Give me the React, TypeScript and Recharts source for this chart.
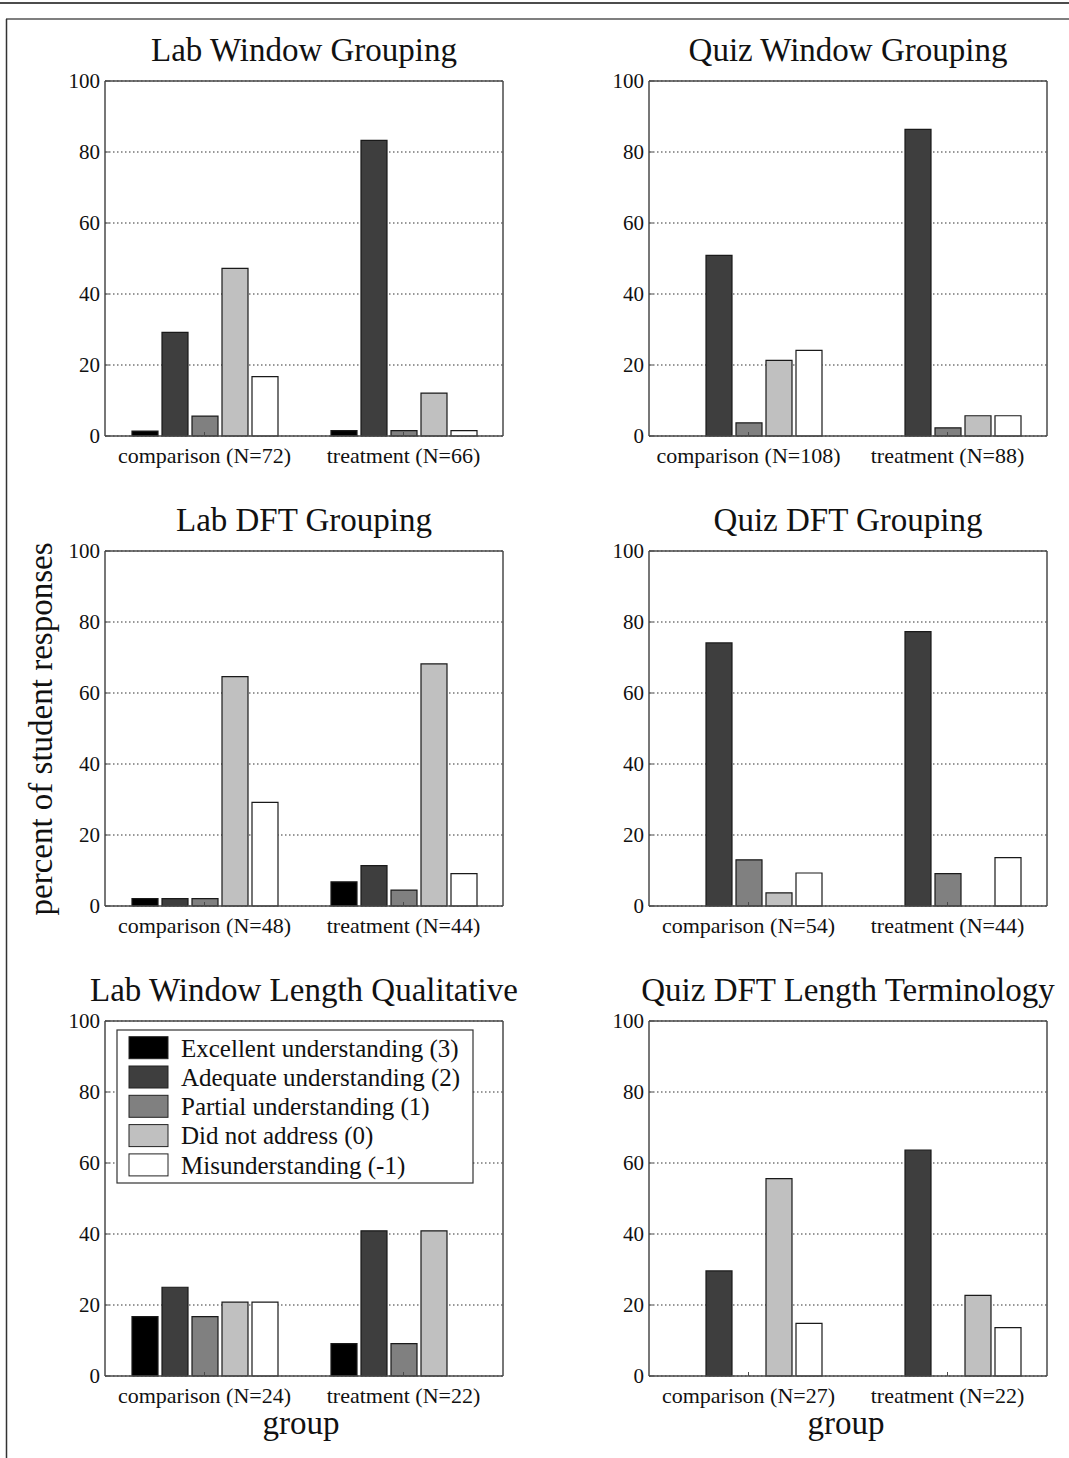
import React from 'react';
import { BarChart, Bar, XAxis, YAxis, CartesianGrid } from 'recharts';

const seriesNames = [
  'Excellent understanding (3)',
  'Adequate understanding (2)',
  'Partial understanding (1)',
  'Did not address (0)',
  'Misunderstanding (-1)',
];
const seriesKeys = ['excellent', 'adequate', 'partial', 'notAddressed', 'misunderstanding'];
const seriesColors = ['#000000', '#3e3e3e', '#808080', '#c0c0c0', '#ffffff'];
const yTicks = [0, 20, 40, 60, 80, 100];

const labWindowCategories = ['comparison (N=72)', 'treatment (N=66)'];
const labWindowComparison = [1.4, 29.2, 5.6, 47.2, 16.7];
const labWindowTreatment = [1.5, 83.3, 1.5, 12.1, 1.5];

const quizWindowCategories = ['comparison (N=108)', 'treatment (N=88)'];
const quizWindowComparison = [0, 50.9, 3.7, 21.3, 24.1];
const quizWindowTreatment = [0, 86.4, 2.3, 5.7, 5.7];

const labDftCategories = ['comparison (N=48)', 'treatment (N=44)'];
const labDftComparison = [2.1, 2.1, 2.1, 64.6, 29.2];
const labDftTreatment = [6.8, 11.4, 4.5, 68.2, 9.1];

const quizDftCategories = ['comparison (N=54)', 'treatment (N=44)'];
const quizDftComparison = [0, 74.1, 13.0, 3.7, 9.3];
const quizDftTreatment = [0, 77.3, 9.1, 0, 13.6];

const labLengthCategories = ['comparison (N=24)', 'treatment (N=22)'];
const labLengthComparison = [16.7, 25.0, 16.7, 20.8, 20.8];
const labLengthTreatment = [9.1, 40.9, 9.1, 40.9, 0];

const quizLengthCategories = ['comparison (N=27)', 'treatment (N=22)'];
const quizLengthComparison = [0, 29.6, 0, 55.6, 14.8];
const quizLengthTreatment = [0, 63.6, 0, 22.7, 13.6];

const FONT = '"Liberation Serif", "DejaVu Serif", "Times New Roman", serif';
const AXIS_COLOR = '#4a4a4a';

function buildRows(categories: string[], comparison: number[], treatment: number[]) {
  return categories.map((name, gi) => {
    const vals = gi === 0 ? comparison : treatment;
    const row: Record<string, any> = { name };
    seriesKeys.forEach((k, si) => {
      row[k] = vals[si];
    });
    return row;
  });
}

type PanelProps = {
  left: number;
  top: number;
  width: number;
  marginLeft: number;
  marginRight: number;
  categories: string[];
  comparison: number[];
  treatment: number[];
};

function Panel({ left, top, width, marginLeft, marginRight, categories, comparison, treatment }: PanelProps) {
  const data = buildRows(categories, comparison, treatment);
  return (
    <div style={{ position: 'absolute', left, top }}>
      <BarChart
        width={width}
        height={480}
        data={data}
        margin={{ top: 80, right: marginRight, left: marginLeft, bottom: 14 }}
        barSize={26}
        barGap={4}
      >
        <CartesianGrid
          vertical={false}
          stroke="#333"
          strokeDasharray="1.5 2.5"
          strokeWidth={1.2}
        />
        <XAxis
          dataKey="name"
          xAxisId={0}
          height={30}
          axisLine={{ stroke: AXIS_COLOR, strokeWidth: 1.5 }}
          tickLine={{ stroke: AXIS_COLOR, strokeWidth: 1 }}
          tickSize={-4}
          tickMargin={15}
          interval={0}
          tick={{ fontSize: 22, fill: '#111', fontFamily: FONT }}
        />
        <XAxis
          dataKey="name"
          xAxisId="top"
          orientation="top"
          height={1}
          axisLine={{ stroke: AXIS_COLOR, strokeWidth: 1.5 }}
          tickLine={{ stroke: AXIS_COLOR, strokeWidth: 1 }}
          tickSize={-4}
          tick={false}
        />
        <YAxis
          yAxisId={0}
          type="number"
          domain={[0, 100]}
          ticks={yTicks}
          width={50}
          axisLine={{ stroke: AXIS_COLOR, strokeWidth: 1.5 }}
          tickLine={{ stroke: AXIS_COLOR, strokeWidth: 1 }}
          tickSize={-4}
          tickMargin={9}
          tick={{ fontSize: 21, fill: '#111', fontFamily: FONT }}
        />
        <YAxis
          yAxisId="right"
          orientation="right"
          type="number"
          domain={[0, 100]}
          ticks={yTicks}
          width={1}
          axisLine={{ stroke: AXIS_COLOR, strokeWidth: 1.5 }}
          tickLine={{ stroke: AXIS_COLOR, strokeWidth: 1 }}
          tickSize={-4}
          tick={false}
        />
        {seriesKeys.map((k, i) => (
          <Bar
            key={k}
            dataKey={k}
            name={seriesNames[i]}
            xAxisId={0}
            yAxisId={0}
            fill={seriesColors[i]}
            stroke="#1a1a1a"
            strokeWidth={1.2}
            isAnimationActive={false}
          />
        ))}
        <Bar
          dataKey="frameOnly"
          xAxisId="top"
          yAxisId="right"
          legendType="none"
          isAnimationActive={false}
        />
      </BarChart>
    </div>
  );
}

const LEFT_COL = { left: 0, width: 540, marginLeft: 55, marginRight: 36 };
const RIGHT_COL = { left: 540, width: 529, marginLeft: 59, marginRight: 21 };

const titles = [
  { text: 'Lab Window Grouping', x: 304, y: 61 },
  { text: 'Quiz Window Grouping', x: 848, y: 61 },
  { text: 'Lab DFT Grouping', x: 304, y: 531 },
  { text: 'Quiz DFT Grouping', x: 848, y: 531 },
  { text: 'Lab Window Length Qualitative', x: 304, y: 1001 },
  { text: 'Quiz DFT Length Terminology', x: 848, y: 1001 },
];

export default function App() {
  return (
    <div style={{ position: 'absolute', left: 0, top: 0, width: 1069, height: 1458, background: '#fff', overflow: 'hidden' }}>
      <Panel {...LEFT_COL} top={0} categories={labWindowCategories} comparison={labWindowComparison} treatment={labWindowTreatment} />
      <Panel {...RIGHT_COL} top={0} categories={quizWindowCategories} comparison={quizWindowComparison} treatment={quizWindowTreatment} />
      <Panel {...LEFT_COL} top={470} categories={labDftCategories} comparison={labDftComparison} treatment={labDftTreatment} />
      <Panel {...RIGHT_COL} top={470} categories={quizDftCategories} comparison={quizDftComparison} treatment={quizDftTreatment} />
      <Panel {...LEFT_COL} top={940} categories={labLengthCategories} comparison={labLengthComparison} treatment={labLengthTreatment} />
      <Panel {...RIGHT_COL} top={940} categories={quizLengthCategories} comparison={quizLengthComparison} treatment={quizLengthTreatment} />
      <svg
        width={1069}
        height={1458}
        style={{ position: 'absolute', left: 0, top: 0, pointerEvents: 'none' }}
        fontFamily={FONT}
      >
        <line x1={0} y1={3} x2={1069} y2={3} stroke="#111" strokeWidth={1.5} />
        <line x1={6} y1={19} x2={1069} y2={19} stroke="#555" strokeWidth={1.5} />
        <line x1={6.5} y1={19} x2={6.5} y2={1458} stroke="#333" strokeWidth={1.5} />
        {titles.map((t) => (
          <text key={t.text} x={t.x} y={t.y} textAnchor="middle" fontSize={33} fill="#111">
            {t.text}
          </text>
        ))}
        <text
          x={0}
          y={0}
          transform="translate(52,729) rotate(-90)"
          textAnchor="middle"
          fontSize={33}
          fill="#111"
        >
          percent of student responses
        </text>
        <text x={301} y={1434} textAnchor="middle" fontSize={33} fill="#111">group</text>
        <text x={846} y={1434} textAnchor="middle" fontSize={33} fill="#111">group</text>
        <g>
          <rect x={117} y={1030} width={356} height={153} fill="#fff" stroke="#333" strokeWidth={1.2} />
          {seriesNames.map((n, i) => (
            <g key={n}>
              <rect
                x={129}
                y={1036.7 + i * 29.3}
                width={39}
                height={22}
                fill={seriesColors[i]}
                stroke="#222"
                strokeWidth={1}
              />
              <text x={181} y={1056.5 + i * 29.3} fontSize={25} fill="#111">
                {n}
              </text>
            </g>
          ))}
        </g>
      </svg>
    </div>
  );
}
